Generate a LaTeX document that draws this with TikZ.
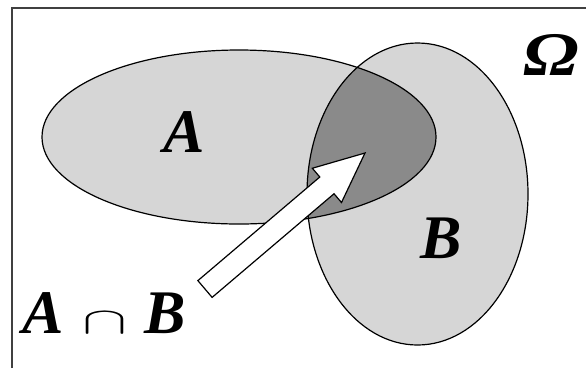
\documentclass[tikz,border=0pt]{standalone}
\usepackage{fontspec}
\setmainfont{Liberation Serif}
\usepackage{graphicx}
\usetikzlibrary{calc}
\definecolor{SetGray}{RGB}{214,214,214}
\definecolor{MeetGray}{RGB}{138,138,138}
\definecolor{FrameGray}{RGB}{64,64,64}

\begin{document}
\begin{tikzpicture}[
  x=1pt, y=-1pt, % pixel-like units, y pointing down
  setfill/.style={fill=SetGray},
  meetfill/.style={fill=MeetGray},
  setline/.style={draw=black, line width=1.2pt},
  frame/.style={draw=FrameGray, line width=2pt},
  setlabel/.style={font=\fontsize{62}{70}\selectfont\bfseries\itshape, inner sep=0pt, anchor=base},
  blockarrow/.style={draw=black, fill=white, line width=1.2pt, line join=miter}
]
\useasboundingbox (0,0) rectangle (586,368);

% --- Frame (sample space) ---
\draw[frame] (12,368) -- (12,8) -- (586,8);

% --- Sets A and B ---
\coordinate (cA) at (239,137);
\coordinate (cB) at (417.5,194);
\path[setfill] (cA) ellipse [x radius=197, y radius=87];
\path[setfill] (cB) ellipse [x radius=110.5, y radius=151];

% Intersection: A clipped by B
\begin{scope}
  \clip (cB) ellipse [x radius=110.5, y radius=151];
  \path[meetfill] (cA) ellipse [x radius=197, y radius=87];
\end{scope}

\draw[setline] (cA) ellipse [x radius=197, y radius=87];
\draw[setline] (cB) ellipse [x radius=110.5, y radius=151];

% --- Labels ---
\node[setlabel] (labelA) at (184,152) {A};
\node[setlabel] (labelB) at (441,258) {B};
\node[setlabel] (labelOmega) at (551,75) {\scalebox{1.2}[1]{Ω}};
\node[setlabel, anchor=base west] (labelMeet) at (22,333)
  {A\hspace{0.3em}\resizebox{45pt}{21pt}{$\cap$}\hspace{0.28em}B};

% --- Block arrow pointing into the intersection ---
\coordinate (tail) at (205,289);
\coordinate (tip) at (365,153);
\coordinate (neck) at ($(tip)!50pt!(tail)$);
\draw[blockarrow]
  ($(tail)!11pt!90:(tip)$) -- ($(neck)!11pt!90:(tip)$) -- ($(neck)!22.5pt!90:(tip)$)
  -- (tip)
  -- ($(neck)!22.5pt!-90:(tip)$) -- ($(neck)!11pt!-90:(tip)$) -- ($(tail)!11pt!-90:(tip)$)
  -- cycle;

\end{tikzpicture}
\end{document}
